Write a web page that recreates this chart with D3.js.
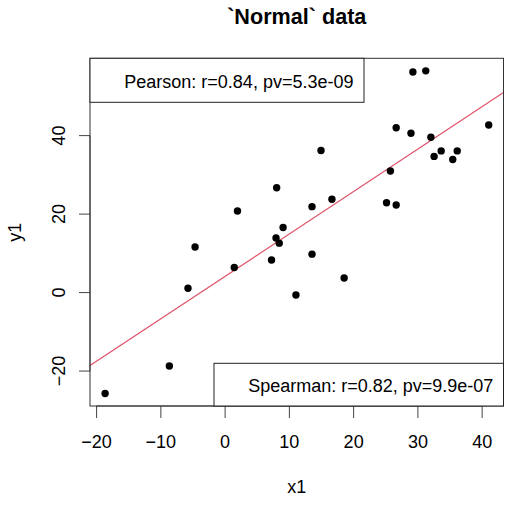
<!DOCTYPE html>
<html><head><meta charset="utf-8">
<script src="https://cdn.jsdelivr.net/npm/d3@7"></script>
<style>body{margin:0;background:#fff}svg{display:block}text{font-family:"Liberation Sans",Arial,sans-serif}</style>
</head><body>
<svg id="c" width="513" height="505"></svg>
<script>
const x1 = [29.3,31.3,26.7,29.0,32.1,41.1,15.0,33.7,36.2,32.6,35.5,25.8,16.7,13.6,25.2,26.7,8.1,2.0,9.1,8.0,8.5,-4.6,1.5,7.3,-5.7,11.1,-8.6,-18.6,13.6,18.6];
const y1 = [56.2,56.5,42.0,40.6,39.6,42.7,36.2,36.1,36.1,34.7,33.9,31.0,23.8,21.9,22.9,22.3,26.7,20.8,16.6,13.9,12.6,11.6,6.4,8.3,1.1,-0.6,-18.7,-25.7,9.8,3.7];
const xTicks = [-20,-10,0,10,20,30,40];
const yTicks = [-20,0,20,40];
const fitCoef = {intercept: 4.05, slope: 1.081};
const titleText = "`Normal` data";
const xLabel = "x1", yLabel = "y1";
const pearsonText = "Pearson: r=0.84, pv=5.3e-09";
const spearmanText = "Spearman: r=0.82, pv=9.9e-07";

const svg = d3.select("#c");
const L=90, R=503.5, T=58.3, B=406;
const x = d3.scaleLinear().domain([-20.95,43.4]).range([L,R]);
const y = d3.scaleLinear().domain([-28.9,59.7]).range([B,T]);
const fs = 18;

svg.append("clipPath").attr("id","clip").append("rect").attr("x",L).attr("y",T).attr("width",R-L).attr("height",B-T);
const xd = x.domain();
svg.append("line").attr("clip-path","url(#clip)")
  .attr("x1",x(xd[0])).attr("y1",y(fitCoef.intercept+fitCoef.slope*xd[0]))
  .attr("x2",x(xd[1])).attr("y2",y(fitCoef.intercept+fitCoef.slope*xd[1]))
  .attr("stroke","#DF536B").attr("stroke-width",1.2);

svg.append("g").selectAll("circle").data(x1.map((v,i)=>[v,y1[i]])).join("circle")
  .attr("cx",d=>x(d[0])).attr("cy",d=>y(d[1])).attr("r",3.7).attr("fill","#000");

const xa = svg.append("g").attr("transform",`translate(0,${B})`)
  .call(d3.axisBottom(x).tickValues(xTicks).tickSize(12).tickPadding(12).tickFormat(d3.format("d")));
const ya = svg.append("g").attr("transform",`translate(${L},0)`)
  .call(d3.axisLeft(y).tickValues(yTicks).tickSize(11).tickFormat(d3.format("d")));
[xa,ya].forEach(a=>{a.select(".domain").attr("stroke","#444");a.selectAll(".tick line").attr("stroke","#444");
  a.selectAll("text").attr("font-size",fs).attr("fill","#000").attr("font-family","Liberation Sans, Arial, sans-serif");});
xa.select(".domain").attr("d",`M${x(xTicks[0])},0H${x(xTicks[xTicks.length-1])}`);
ya.select(".domain").attr("d",`M0,${y(yTicks[0])}V${y(yTicks[yTicks.length-1])}`);
xa.selectAll(".tick text").attr("y",null).attr("transform","translate(0,35.7)").attr("dy","0.35em");
ya.selectAll(".tick text").attr("transform",function(d){return `translate(${58.3-L},${y(d)}) rotate(-90)`;})
  .attr("x",0).attr("y",0).attr("dy","0.35em").attr("text-anchor","middle");
ya.selectAll(".tick").attr("transform",null);
ya.selectAll(".tick line").attr("transform",d=>`translate(0,${y(d)})`);

svg.append("rect").attr("x",L).attr("y",T).attr("width",R-L).attr("height",B-T).attr("fill","none").attr("stroke","#333");

svg.append("rect").attr("x",L).attr("y",T).attr("width",364-L).attr("height",102.3-T).attr("fill","#fff").attr("stroke","#222");
svg.append("text").attr("x",124.3).attr("y",81.2).attr("dy","0.35em").attr("font-size",fs).text(pearsonText);
svg.append("rect").attr("x",214).attr("y",363.3).attr("width",R-214).attr("height",B-363.3).attr("fill","#fff").attr("stroke","#222");
svg.append("text").attr("x",493.3).attr("y",385.2).attr("dy","0.35em").attr("text-anchor","end").attr("font-size",fs).text(spearmanText);

svg.append("text").attr("x",(L+R)/2).attr("y",16).attr("dy","0.35em").attr("text-anchor","middle")
  .attr("font-size",21.6).attr("font-weight","bold").text(titleText);
svg.append("text").attr("x",(L+R)/2).attr("y",487).attr("dy","0.35em").attr("text-anchor","middle").attr("font-size",fs).text(xLabel);
svg.append("text").attr("transform",`translate(15,${(T+B)/2}) rotate(-90)`).attr("dy","0.35em").attr("text-anchor","middle").attr("font-size",fs).text(yLabel);
</script>
</body></html>
